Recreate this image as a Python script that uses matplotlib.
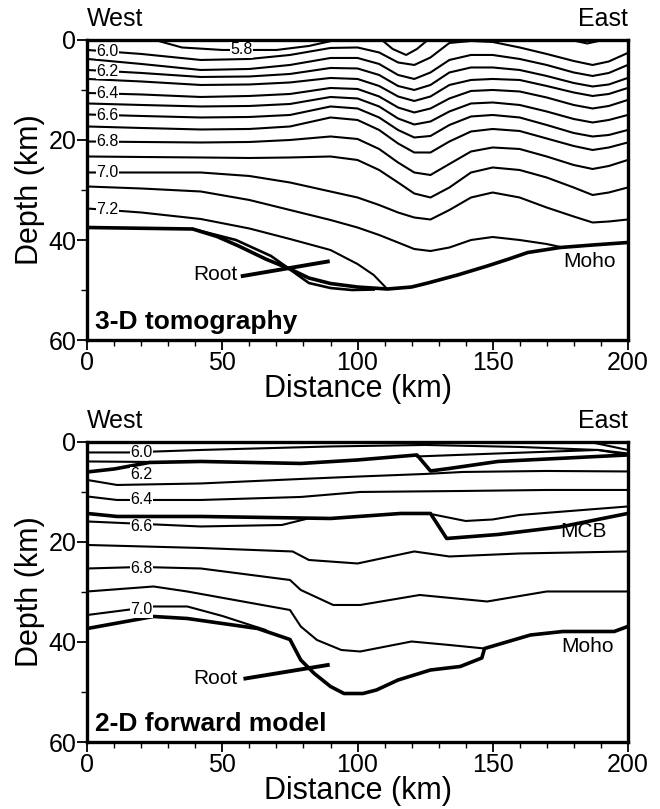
import numpy as np
import matplotlib.pyplot as plt
from matplotlib.ticker import MultipleLocator

plt.rcParams['font.family'] = ['Liberation Sans', 'DejaVu Sans']

# ---------------- top panel: 3-D tomography (x in km, depth in km) ----------------
xt = [0, 20, 42, 60, 75, 90, 100, 108, 115, 121, 127, 134, 142, 150, 160, 170, 180, 187, 193, 200]
tomo = {
    '6.0': [2.0, 2.8, 4.0, 3.8, 3.0, 1.6, 1.5, 2.5, 4.5, 5.0, 3.5, 0.6, 0.2, 0.4, 1.5, 2.8, 4.2, 5.0, 4.3, 2.6],
    '6.1': [3.8, 4.8, 6.0, 5.8, 5.0, 3.6, 3.6, 4.8, 7.0, 7.8, 6.5, 4.0, 3.0, 3.0, 3.8, 5.0, 6.5, 7.2, 6.6, 5.0],
    '6.2': [6.0, 6.6, 7.4, 7.3, 6.8, 5.6, 5.7, 7.0, 9.2, 10.0, 9.0, 6.5, 5.5, 5.5, 6.0, 7.2, 8.6, 9.3, 8.9, 7.6],
    '6.3': [7.8, 8.3, 9.0, 8.9, 8.5, 7.6, 7.8, 9.2, 11.3, 12.2, 11.3, 9.0, 8.0, 7.8, 8.0, 9.2, 10.5, 11.2, 10.8, 9.6],
    '6.4': [10.6, 10.9, 11.4, 11.2, 10.8, 9.6, 9.8, 11.3, 13.5, 14.5, 13.7, 11.7, 10.2, 10.0, 10.3, 11.5, 13.0, 13.7, 13.2, 12.0],
    '6.5': [12.7, 13.0, 13.3, 13.2, 12.8, 11.4, 11.7, 13.3, 15.7, 16.9, 16.3, 14.3, 12.7, 12.5, 13.0, 14.3, 15.8, 16.5, 16.0, 15.0],
    '6.6': [14.9, 15.2, 15.5, 15.4, 15.0, 13.3, 13.7, 15.5, 18.0, 19.5, 19.2, 17.0, 15.3, 15.0, 15.5, 17.0, 18.6, 19.3, 19.0, 18.0],
    '6.7': [17.3, 17.6, 17.9, 17.8, 17.3, 15.5, 16.0, 18.0, 20.7, 22.5, 22.5, 20.3, 18.3, 17.8, 18.2, 19.7, 21.2, 22.0, 21.5, 20.5],
    '6.8': [20.3, 20.4, 20.5, 20.4, 20.0, 19.3, 19.8, 21.8, 24.5, 26.5, 27.0, 24.8, 22.3, 21.5, 21.8, 23.3, 25.0, 25.8, 25.2, 24.0],
    '6.9': [23.3, 23.4, 23.5, 23.6, 23.5, 23.3, 24.0, 26.0, 28.5, 30.7, 31.5, 29.5, 26.5, 25.5, 26.0, 27.5, 29.5, 31.0, 30.5, 29.5],
    '7.0': [26.5, 26.5, 26.5, 27.2, 28.5, 30.3, 31.5, 33.0, 34.5, 35.5, 35.9, 34.0, 31.5, 30.5, 31.5, 33.5, 35.3, 36.5, 36.3, 35.9],
}
t71_x = [0, 20, 42, 60, 75, 90, 100, 108, 115, 121, 127, 134, 142, 150, 160, 170, 176]
t71_d = [29.3, 29.7, 30.3, 32.0, 34.0, 36.0, 37.5, 39.0, 40.5, 41.8, 42.2, 41.5, 40.0, 39.4, 40.0, 40.8, 41.5]
t72_x = [0, 20, 42, 60, 75, 90, 100, 106, 111]
t72_d = [33.7, 34.5, 35.8, 37.7, 39.8, 42.0, 44.8, 47.0, 49.8]
t73_x = [39, 55, 68, 74, 82, 90, 98, 106]
t73_d = [37.8, 40.0, 43.2, 45.5, 48.6, 49.6, 50.0, 49.9]
t58_segments = [
    ([25, 35, 50, 70, 82, 92], [0.0, 1.5, 2.0, 2.0, 1.2, 0.0]),
    ([109, 113, 118, 122, 126], [0.0, 1.8, 3.0, 1.8, 0.0]),
    ([179, 185, 191], [0.0, 0.7, 0.0]),
]
tmoho_x = [0, 39, 48, 56, 66, 75, 82, 90, 100, 111, 120, 126, 137, 148, 156, 163, 175, 187, 200]
tmoho_d = [37.5, 37.8, 39.3, 41.2, 43.8, 45.8, 47.6, 48.7, 49.4, 49.8, 49.4, 48.6, 47.0, 45.2, 43.8, 42.5, 41.5, 41.0, 40.5]
tomo_labels = ['6.0', '6.2', '6.4', '6.6', '6.8', '7.0', '7.2']

# ---------------- bottom panel: 2-D forward model ----------------
b60_x = [0, 15, 42, 90, 125, 160, 189, 200]
b60_d = [2.1, 2.1, 1.6, 0.9, 0.6, 1.0, 1.6, 2.6]
btop_x = [186, 200]
btop_d = [0.0, 1.6]
bth1_x = [0, 10, 23, 42, 79, 100, 122, 127, 134, 152, 200]
bth1_d = [6.0, 5.4, 4.1, 3.9, 4.3, 3.6, 2.6, 5.8, 5.3, 3.9, 2.6]
bup_x = [122, 152, 189, 200]
bup_d = [2.9, 2.3, 1.6, 2.3]
b61_x = [0, 23]
b61_d = [3.9, 4.0]
b63_x = [0, 11, 42, 79, 101, 125, 139, 170, 200]
b63_d = [7.6, 8.6, 8.3, 7.4, 6.9, 6.4, 6.0, 5.8, 5.9]
b64_x = [0, 11, 42, 79, 101, 139, 170, 200]
b64_d = [10.9, 11.6, 11.6, 11.0, 10.0, 9.8, 9.6, 9.6]
bmcb_x = [0, 11, 42, 90, 116, 127, 133, 152, 175, 200]
bmcb_d = [14.3, 14.9, 14.9, 15.3, 14.3, 14.3, 19.3, 18.5, 17.0, 14.3]
bmcb2_x = [128, 140, 150, 160, 200]
bmcb2_d = [14.5, 15.8, 15.5, 14.6, 12.9]
b66_x = [0, 42, 72, 81]
b66_d = [15.9, 16.9, 16.6, 15.4]
b67_x = [0, 42, 76, 82, 100, 121, 134, 160, 200]
b67_d = [20.6, 21.2, 21.9, 23.6, 24.3, 21.9, 22.9, 22.3, 21.9]
b68_x = [0, 20, 42, 75, 79, 91, 101, 123, 148, 170, 200]
b68_d = [25.3, 25.0, 25.3, 27.6, 29.6, 32.6, 32.6, 30.6, 31.9, 29.9, 29.9]
b69_x = [0, 24.5, 37, 75, 79, 85, 94, 101, 120, 134, 147]
b69_d = [29.9, 28.9, 29.9, 33.6, 36.9, 39.6, 41.6, 41.9, 39.9, 40.6, 41.3]
b70_x = [0, 24.5, 37, 50, 66]
b70_d = [34.6, 32.9, 32.9, 34.8, 37.6]
bmoho_x = [0, 24.5, 37, 63, 75, 79, 84, 90, 95, 102, 107, 115, 127, 138, 146, 147, 164, 176, 195, 200]
bmoho_d = [37.3, 34.9, 35.3, 37.3, 39.5, 43.6, 46.3, 48.9, 50.3, 50.3, 49.6, 47.6, 45.6, 44.9, 43.2, 41.3, 38.6, 37.9, 37.9, 36.9]
fwd_labels = [('6.0', 2.1), ('6.2', 6.6), ('6.4', 11.6), ('6.6', 16.9), ('6.8', 25.3), ('7.0', 33.6)]

THIN = 1.5
THICK = 2.6


def style_axes(ax, title):
    ax.set_xlim(0, 200)
    ax.set_ylim(60, 0)
    ax.xaxis.set_major_locator(MultipleLocator(50))
    ax.xaxis.set_minor_locator(MultipleLocator(10))
    ax.yaxis.set_major_locator(MultipleLocator(20))
    ax.yaxis.set_minor_locator(MultipleLocator(10))
    ax.tick_params(which='major', length=7, width=1.3, labelsize=18, pad=1)
    ax.tick_params(which='minor', length=4, width=1.0)
    for s in ax.spines.values():
        s.set_linewidth(2.4)
    ax.set_xlabel('Distance (km)', fontsize=22, labelpad=-1)
    ax.set_ylabel('Depth (km)', fontsize=22, labelpad=2)
    ax.text(0, 1.07, 'West', transform=ax.transAxes, fontsize=18, ha='left', va='center')
    ax.text(1, 1.07, 'East', transform=ax.transAxes, fontsize=18, ha='right', va='center')
    ax.text(3, 56.4, title, fontsize=19, fontweight='bold', ha='left', va='center')


def clabel(ax, x, d, s):
    ax.text(x, d, s, fontsize=11.5, ha='center', va='center', zorder=5,
            bbox=dict(facecolor='white', edgecolor='none', pad=0.2))


fig = plt.figure(figsize=(6.6, 8.09), dpi=100)
ax1 = fig.add_axes([0.1323, 0.5797, 0.8188, 0.3709])
ax2 = fig.add_axes([0.1323, 0.0828, 0.8188, 0.3709])

# top panel
for key, dd in tomo.items():
    ax1.plot(xt, dd, color='black', lw=THIN)
ax1.plot(t71_x, t71_d, color='black', lw=THIN)
ax1.plot(t72_x, t72_d, color='black', lw=THIN)
ax1.plot(t73_x, t73_d, color='black', lw=THIN + 0.4)
for sx, sd in t58_segments:
    ax1.plot(sx, sd, color='black', lw=THIN)
ax1.plot(tmoho_x, tmoho_d, color='black', lw=THICK)
for lab in tomo_labels:
    if lab == '7.2':
        clabel(ax1, 7.5, np.interp(7.5, t72_x, t72_d), lab)
    else:
        clabel(ax1, 7.5, np.interp(7.5, xt, tomo[lab]), lab)
clabel(ax1, 57, 2.0, '5.8')
ax1.text(47.5, 46.8, 'Root', fontsize=15, ha='center', va='center')
ax1.plot([57.5, 89], [47.2, 44.3], color='black', lw=2.8)
ax1.text(186, 44.2, 'Moho', fontsize=15, ha='center', va='center')
style_axes(ax1, '3-D tomography')

# bottom panel
ax2.plot(b60_x, b60_d, color='black', lw=THIN)
ax2.plot(btop_x, btop_d, color='black', lw=THIN)
ax2.plot(bth1_x, bth1_d, color='black', lw=THICK)
ax2.plot(bup_x, bup_d, color='black', lw=THIN)
ax2.plot(b61_x, b61_d, color='black', lw=THIN)
ax2.plot(b63_x, b63_d, color='black', lw=THIN)
ax2.plot(b64_x, b64_d, color='black', lw=THIN)
ax2.plot(bmcb_x, bmcb_d, color='black', lw=THICK)
ax2.plot(bmcb2_x, bmcb2_d, color='black', lw=THIN)
ax2.plot(b66_x, b66_d, color='black', lw=THIN)
ax2.plot(b67_x, b67_d, color='black', lw=THIN)
ax2.plot(b68_x, b68_d, color='black', lw=THIN)
ax2.plot(b69_x, b69_d, color='black', lw=THIN)
ax2.plot(b70_x, b70_d, color='black', lw=THIN)
ax2.plot(bmoho_x, bmoho_d, color='black', lw=THICK)
for lab, dl in fwd_labels:
    clabel(ax2, 20, dl, lab)
ax2.text(47.5, 47.3, 'Root', fontsize=15, ha='center', va='center')
ax2.plot([58.5, 89], [47.3, 44.6], color='black', lw=2.8)
ax2.text(185, 40.9, 'Moho', fontsize=15, ha='center', va='center')
ax2.text(183.5, 17.9, 'MCB', fontsize=15, ha='center', va='center')
style_axes(ax2, '2-D forward model')

fig.savefig('out.png', dpi=100)
